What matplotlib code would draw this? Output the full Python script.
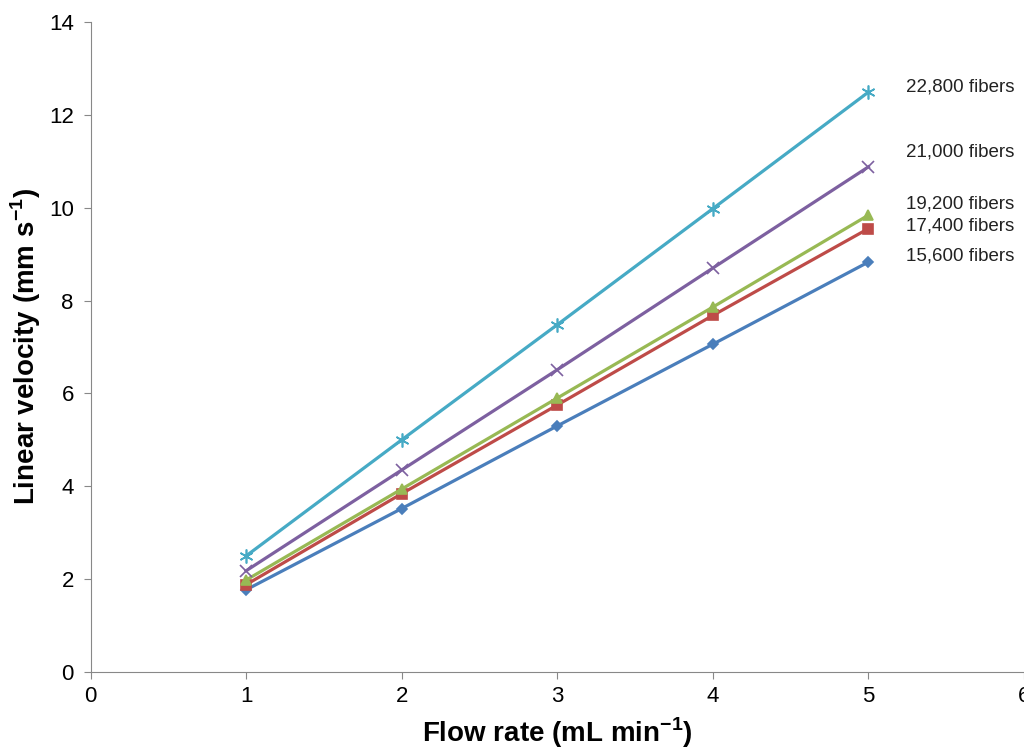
import matplotlib.pyplot as plt

flow_rate = [1, 2, 3, 4, 5]
fibers_15600 = [1.77, 3.52, 5.30, 7.06, 8.83]
fibers_17400 = [1.88, 3.84, 5.75, 7.68, 9.55]
fibers_19200 = [1.98, 3.94, 5.90, 7.86, 9.84]
fibers_21000 = [2.18, 4.35, 6.51, 8.70, 10.88]
fibers_22800 = [2.50, 5.00, 7.48, 9.98, 12.49]
labels = ["15,600 fibers", "17,400 fibers", "19,200 fibers", "21,000 fibers", "22,800 fibers"]

plt.rcParams['font.family'] = ['Liberation Sans', 'DejaVu Sans']
plt.rcParams['mathtext.fontset'] = 'custom'
plt.rcParams['mathtext.bf'] = 'Liberation Sans:bold'
plt.rcParams['mathtext.rm'] = 'Liberation Sans'

fig = plt.figure(figsize=(10.24, 7.51), dpi=100)
ax = fig.add_axes([0.0884, 0.1052, 0.9116, 0.8655])

series = [fibers_15600, fibers_17400, fibers_19200, fibers_21000, fibers_22800]
colors = ["#4a7ebb", "#be4b48", "#98b954", "#7d60a0", "#46aac5"]
markers = ["D", "s", "^", "x", (6, 2, 0)]
msizes = [5, 7, 7, 8, 10]
label_dy = [4, 2, 8, 11, 4]  # text offset in points from last point

for vals, c, m, ms, lab, dy in zip(series, colors, markers, msizes, labels, label_dy):
    ax.plot(flow_rate, vals, color=c, linewidth=2.3, marker=m, markersize=ms,
            markeredgecolor=c, markeredgewidth=1.2, clip_on=False)
    ax.annotate(lab, xy=(flow_rate[-1], vals[-1]), xytext=(27, dy),
                textcoords='offset points', fontsize=13.5, color='#222222',
                va='center', ha='left')

ax.set_xlim(0, 6)
ax.set_ylim(0, 14)
ax.set_xticks(range(0, 7))
ax.set_yticks(range(0, 15, 2))
ax.tick_params(axis='both', labelsize=16, color='#888888', direction='out', length=5)
ax.tick_params(axis='x', pad=5)
ax.tick_params(axis='y', pad=7)
for side in ['top', 'right']:
    ax.spines[side].set_visible(False)
for side in ['left', 'bottom']:
    ax.spines[side].set_color('#888888')

ax.set_xlabel("Flow rate (mL min$^{\\mathbf{-1}}$)", fontsize=20, fontweight='bold', labelpad=6)
ax.set_ylabel("Linear velocity (mm s$^{\\mathbf{-1}}$)", fontsize=20, fontweight='bold', labelpad=4)

fig.savefig("out.png", dpi=100)
